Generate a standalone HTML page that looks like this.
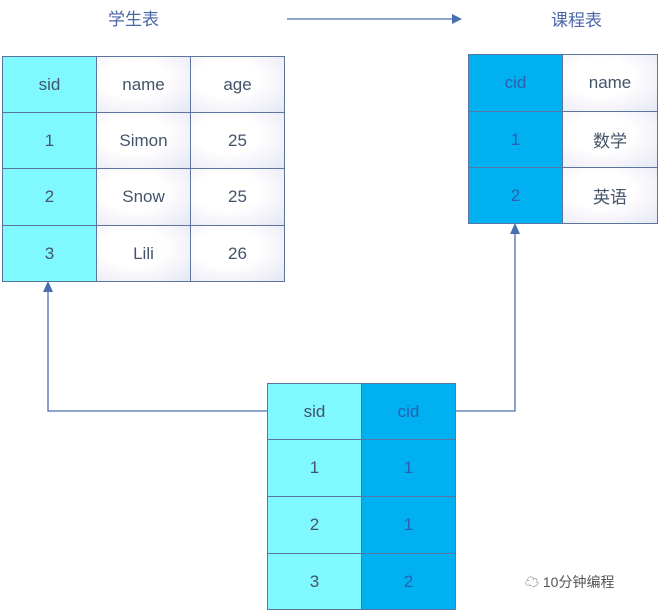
<!DOCTYPE html>
<html><head><meta charset="utf-8"><style>
body{margin:0;width:658px;height:611px;background:#fff;position:relative;overflow:hidden;font-family:"Liberation Sans","Noto Sans CJK SC",sans-serif}
.c{position:absolute;box-sizing:border-box;border:1px solid #5a76a0;display:flex;align-items:center;justify-content:center;font-size:17px;color:#44546a}
.cy{background:#80f8ff}
.bl{background:#00b0f0;color:#2b5fb0}
.w{background:radial-gradient(ellipse at 40% 40%,#fff 40%,#e6e6f4 100%)}
.t{position:absolute;font-size:17px;color:#4a67a8}
</style></head><body>
<div class="t" style="left:108px;top:5px">学生表</div>
<div class="t" style="left:551px;top:6px">课程表</div>
<svg style="position:absolute;left:0;top:0" width="658" height="611">
<g stroke="#4a6fb0" stroke-width="1.3" fill="none">
<line x1="287" y1="19" x2="455" y2="19"/>
<polyline points="267,411 48,411 48,290"/>
<polyline points="456,411 515,411 515,231"/>
</g>
<g fill="#4a6fb0">
<polygon points="462,19 452,14 452,24"/>
<polygon points="48,281 43,292 53,292"/>
<polygon points="515,223 510,234 520,234"/>
</g>
</svg>
<!-- student -->
<div class="c cy" style="left:2px;top:56px;width:95px;height:57px">sid</div>
<div class="c w" style="left:96px;top:56px;width:95px;height:57px">name</div>
<div class="c w" style="left:190px;top:56px;width:95px;height:57px">age</div>
<div class="c cy" style="left:2px;top:112px;width:95px;height:57px">1</div>
<div class="c w" style="left:96px;top:112px;width:95px;height:57px">Simon</div>
<div class="c w" style="left:190px;top:112px;width:95px;height:57px">25</div>
<div class="c cy" style="left:2px;top:168px;width:95px;height:58px">2</div>
<div class="c w" style="left:96px;top:168px;width:95px;height:58px">Snow</div>
<div class="c w" style="left:190px;top:168px;width:95px;height:58px">25</div>
<div class="c cy" style="left:2px;top:225px;width:95px;height:57px">3</div>
<div class="c w" style="left:96px;top:225px;width:95px;height:57px">Lili</div>
<div class="c w" style="left:190px;top:225px;width:95px;height:57px">26</div>
<!-- course -->
<div class="c bl" style="left:468px;top:54px;width:95px;height:58px">cid</div>
<div class="c w" style="left:562px;top:54px;width:96px;height:58px">name</div>
<div class="c bl" style="left:468px;top:111px;width:95px;height:57px">1</div>
<div class="c w" style="left:562px;top:111px;width:96px;height:57px">数学</div>
<div class="c bl" style="left:468px;top:167px;width:95px;height:57px">2</div>
<div class="c w" style="left:562px;top:167px;width:96px;height:57px">英语</div>
<!-- join -->
<div class="c cy" style="left:267px;top:383px;width:95px;height:57px">sid</div>
<div class="c bl" style="left:361px;top:383px;width:95px;height:57px">cid</div>
<div class="c cy" style="left:267px;top:439px;width:95px;height:58px">1</div>
<div class="c bl" style="left:361px;top:439px;width:95px;height:58px">1</div>
<div class="c cy" style="left:267px;top:496px;width:95px;height:58px">2</div>
<div class="c bl" style="left:361px;top:496px;width:95px;height:58px">1</div>
<div class="c cy" style="left:267px;top:553px;width:95px;height:57px">3</div>
<div class="c bl" style="left:361px;top:553px;width:95px;height:57px">2</div>
<div style="position:absolute;left:525px;top:572px;font-size:14px;color:#555">☁ 10分钟编程</div>
</body></html>
